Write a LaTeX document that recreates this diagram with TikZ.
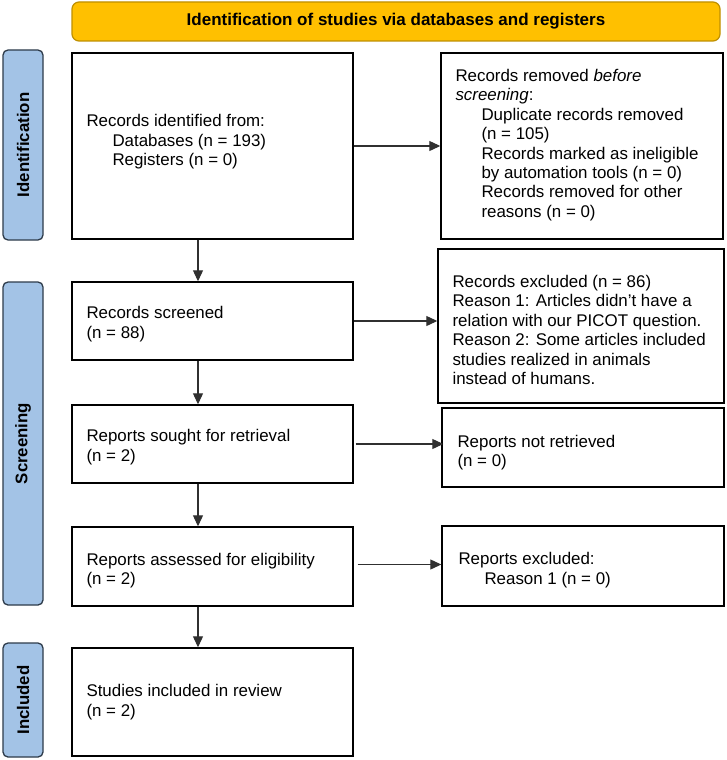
\documentclass[tikz,border=0pt]{standalone}
\usepackage{fontspec}
\setmainfont{Liberation Sans}
\usetikzlibrary{arrows.meta,calc}
\definecolor{hdrfill}{HTML}{FFC000}
\definecolor{hdrline}{HTML}{BF9000}
\definecolor{labfill}{HTML}{A3C3E6}
\definecolor{labline}{HTML}{2E3B4A}
\definecolor{arrcol}{HTML}{303030}
\tikzset{
  box/.style={draw=black, line width=1.4pt, inner sep=0pt, fill=white},
  txt/.style={inner sep=0pt, align=left, font=\fontsize{16.9}{19.4}\selectfont, anchor=west},
  lab/.style={draw=labline, fill=labfill, line width=1.3pt, rounded corners=5pt, inner sep=0pt,
    font=\bfseries\fontsize{16.8}{19}\selectfont, rotate=90},
  hdr/.style={draw=hdrline, fill=hdrfill, line width=1.2pt, rounded corners=7pt, inner sep=0pt,
    font=\bfseries\fontsize{17}{20}\selectfont},
  arr/.style={draw=arrcol, line width=1.1pt, -{Triangle[length=11pt,width=10pt]}}
}
\newcommand{\ind}{\hspace*{26pt}}
\begin{document}
\begin{tikzpicture}[x=1pt,y=-1pt]
\useasboundingbox (0,0) rectangle (727,760);
\fill[white] (0,0) rectangle (727,760);
% header
\node[hdr, minimum width=648pt, minimum height=39pt] (hd) at (396,21.5) {Identification of studies via databases and registers};
% side labels
\node[lab, minimum width=190pt, minimum height=40pt] (l1) at (23,145) {Identification};
\node[lab, minimum width=323pt, minimum height=40pt] (l2) at (23,443.5) {Screening};
\node[lab, minimum width=114pt, minimum height=40pt] (l3) at (23,700) {Included};
% left column
\node[box, minimum width=281pt, minimum height=186pt] (b1) at (212.5,146) {};
\node[box, minimum width=281pt, minimum height=78pt] (b2) at (212.5,321) {};
\node[box, minimum width=281pt, minimum height=78pt] (b3) at (212.5,444) {};
\node[box, minimum width=281pt, minimum height=79pt] (b4) at (212.5,566.5) {};
\node[box, minimum width=281pt, minimum height=108pt] (b5) at (212.5,702) {};
% right column
\node[box, minimum width=282pt, minimum height=186pt] (r1) at (582,146) {};
\node[box, minimum width=286pt, minimum height=154pt] (r2) at (581,326) {};
\node[box, minimum width=282pt, minimum height=79pt] (r3) at (583,447.5) {};
\node[box, minimum width=282pt, minimum height=80pt] (r4) at (583,566) {};
% texts
\node[txt] (t1) at ([xshift=15pt,yshift=4pt]b1.west) {Records identified from:\\\ind Databases (n = 193)\\\ind Registers (n = 0)};
\node[txt] (t2) at ([xshift=15pt,yshift=-3pt]b2.west) {Records screened\\(n = 88)};
\node[txt] (t3) at ([xshift=15pt,yshift=-3pt]b3.west) {Reports sought for retrieval\\(n = 2)};
\node[txt] (t4) at ([xshift=15pt,yshift=-4pt]b4.west) {Reports assessed for eligibility\\(n = 2)};
\node[txt] (t5) at ([xshift=15pt,yshift=0pt]b5.west) {Studies included in review\\(n = 2)};
\node[txt] (u1) at ([xshift=15pt,yshift=1pt]r1.west) {Records removed \textit{before}\\\textit{screening}:\\\ind Duplicate records removed\\\ind (n = 105)\\\ind Records marked as ineligible\\\ind by automation tools (n = 0)\\\ind Records removed for other\\\ind reasons (n = 0)};
\node[txt] (u2) at ([xshift=15pt,yshift=-4pt]r2.west) {Records excluded (n = 86)\\Reason 1: Articles didn’t have a\\relation with our PICOT question.\\Reason 2: Some articles included\\studies realized in animals\\instead of humans.};
\node[txt] (u3) at ([xshift=16pt,yshift=-5pt]r3.west) {Reports not retrieved\\(n = 0)};
\node[txt] (u4) at ([xshift=17pt,yshift=-4pt]r4.west) {Reports excluded:\\\ind Reason 1 (n = 0)};
% connectors
\coordinate (vx) at (198,0);
\draw[arr] (b1.south -| vx) -- (b2.north -| vx);
\draw[arr] (b2.south -| vx) -- (b3.north -| vx);
\draw[arr] (b3.south -| vx) -- (b4.north -| vx);
\draw[arr] (b4.south -| vx) -- (b5.north -| vx);
\draw[arr] (b1.east) -- (b1.east -| r1.west);
\draw[arr] (b2.east) -- (b2.east -| r2.west);
\draw[arr] ([xshift=2pt]b3.east) -- ([xshift=2pt]b3.east -| r3.west);
\draw[arr] ([xshift=4pt,yshift=2pt]b4.east) -- ([yshift=2pt]b4.east -| r4.west);
\end{tikzpicture}
\end{document}
